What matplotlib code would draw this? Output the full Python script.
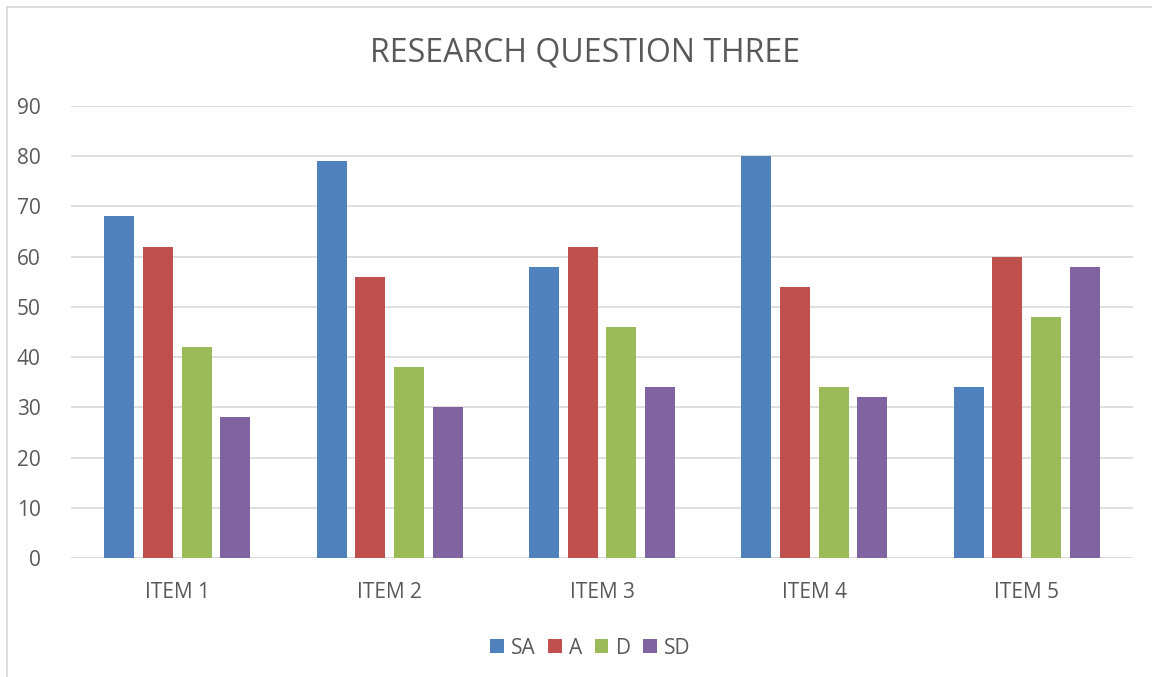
import matplotlib.pyplot as plt
import numpy as np
from matplotlib.lines import Line2D

# chart values
items = ['ITEM 1', 'ITEM 2', 'ITEM 3', 'ITEM 4', 'ITEM 5']
series = ['SA', 'A', 'D', 'SD']
sa = [68, 79, 58, 80, 34]
a = [62, 56, 62, 54, 60]
d = [42, 38, 46, 34, 48]
sd = [28, 30, 34, 32, 58]
colors = ['#4F81BD', '#C0504D', '#9BBB59', '#8064A2']

plt.rcParams['font.family'] = ['Open Sans', 'DejaVu Sans']
text_col = '#595959'

fig = plt.figure(figsize=(11.52, 6.77), dpi=100)
ax = fig.add_axes([71 / 1152, 1 - 558 / 677, (1133 - 71) / 1152, (558 - 106) / 677])

x = np.arange(len(items))
width = 0.141
step = 0.182
for i, (name, vals) in enumerate(zip(series, [sa, a, d, sd])):
    ax.bar(x + (i - 1.5) * step, vals, width, color=colors[i], label=name, zorder=3)

ax.set_xlim(-0.5, len(items) - 0.5)
ax.set_ylim(0, 90)
ax.set_yticks(range(0, 91, 10))
ax.set_xticks(x)
ax.set_xticklabels(items)
ax.yaxis.grid(True, color='#D9D9D9', linewidth=1.2, zorder=0)
for s in ['top', 'right', 'left', 'bottom']:
    ax.spines[s].set_visible(False)
ax.tick_params(axis='both', length=0, labelsize=15, labelcolor=text_col)
ax.tick_params(axis='y', pad=22)
ax.tick_params(axis='x', pad=17)

# baseline gridline at 0
ax.axhline(0, color='#D9D9D9', linewidth=1.2, zorder=2)

ax.set_title('RESEARCH QUESTION THREE', fontsize=23, color=text_col, pad=32, x=0.484)

leg = ax.legend(loc='upper center', bbox_to_anchor=(0.489, -0.135), ncol=4,
                frameon=False, fontsize=15, handlelength=0.65, handleheight=0.65,
                handletextpad=0.35, columnspacing=0.6)
for t in leg.get_texts():
    t.set_color(text_col)

# chart border (only the left and top edges are in frame)
fig.add_artist(Line2D([7 / 1152, 7 / 1152], [0, 1 - 7 / 677], color='#D9D9D9', linewidth=1.2))
fig.add_artist(Line2D([7 / 1152, 1], [1 - 7 / 677, 1 - 7 / 677], color='#D9D9D9', linewidth=1.2))

fig.savefig('out.png', dpi=100)
